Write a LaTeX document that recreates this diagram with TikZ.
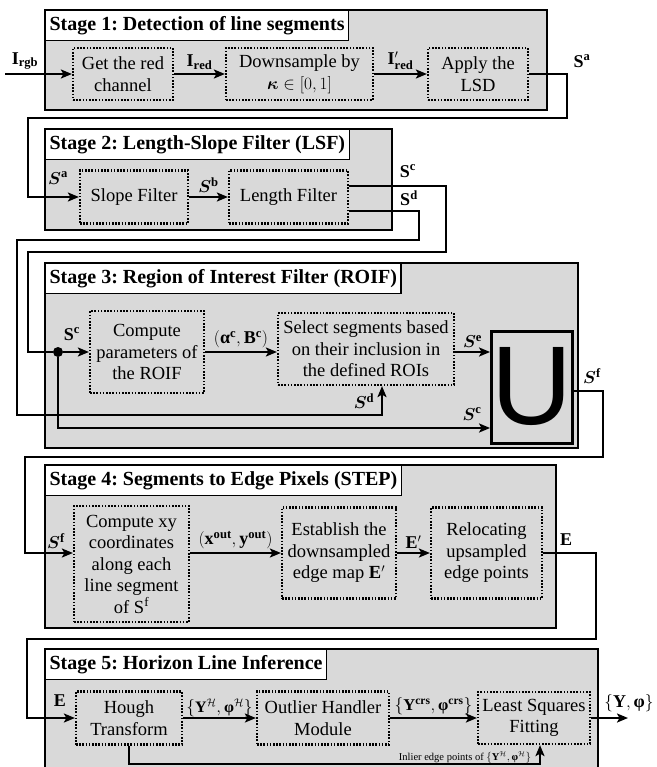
\documentclass[tikz,border=0pt]{standalone}
\usepackage{amsmath,bm}
\usepackage{fontspec}
\setmainfont{Liberation Serif}
\newfontfamily\usans{Liberation Sans}
\frenchspacing
\usetikzlibrary{
    arrows.meta,
    calc
}
\definecolor{stagegray}{RGB}{217,217,217}
\newcommand{\bv}[1]{\mathbf{#1}}
\newcommand{\bphi}{\mbox{\bfseries φ}}
\newcommand{\balpha}{\mbox{\bfseries α}}
\tikzset{
  stage/.style={
    draw=black,
    fill=stagegray,
    line width=1.2pt
  },
  stagetitle/.style={
    draw=black,
    fill=white,
    line width=1.2pt,
    anchor=north west,
    minimum height=30pt,
    inner xsep=4pt,
    inner ysep=0pt,
    font=\fontsize{20}{22}\selectfont\bfseries
  },
  proc/.style={
    draw=black,
    line width=2.2pt,
    dash pattern=on 1.6pt off 1.6pt,
    align=center,
    inner sep=2pt,
    font=\fontsize{18.5}{21.5}\selectfont
  },
  link/.style={line width=2.2pt},
  arr/.style={link, -{Stealth[length=11pt,width=9pt,inset=2.5pt]}},
  lab/.style={inner sep=1pt, font=\fontsize{18}{20}\selectfont}
}

\begin{document}
\begin{tikzpicture}[x=1pt,y=-1pt]
    \useasboundingbox (0,0) rectangle (656,767);
    \clip (0,0) rectangle (656,767);

    %-------------------------
    %Stage 1
    %-------------------------
    \draw[stage] (45,10) rectangle (547,110);
    \node[stagetitle] (t1) at (45,10) {Stage 1: Detection of line segments};
    \node[proc, minimum width=100pt, minimum height=52pt] (red) at (123,74) {Get the red\\channel};
    \node[proc, minimum width=147pt, minimum height=52pt] (down) at (299.5,74) {Downsample by\\$\bm{\kappa}\in[0,1]$};
    \node[proc, minimum width=100pt, minimum height=52pt] (lsd) at (478,74) {Apply the\\LSD};

    \coordinate (in) at (5,74);
    \draw[arr] (in) -- (red);
    \draw[arr] (red) -- node[lab, above=2pt] {$\bv{I}_{\bv{red}}$} (down);
    \draw[arr] (down) -- node[lab, above=2pt] {$\bv{I}'_{\bv{red}}$} (lsd);
    \node[lab] (lrgb) at (25,61) {$\bv{I}_{\bv{rgb}}$};
    \node[lab] (lsa) at (582,61) {$\bv{S}^{\bv{a}}$};

    %-------------------------
    %Stage 2
    %-------------------------
    \draw[stage] (45,129) rectangle (392,230);
    \node[stagetitle] (t2) at (45,129) {Stage 2: Length-Slope Filter (LSF)};
    \node[proc, minimum width=108pt, minimum height=53pt] (slope) at (134,197) {Slope Filter};
    \node[proc, minimum width=119pt, minimum height=53pt] (length) at (288.5,197) {Length Filter};

    \draw[arr] (lsd.east) -| (567,118) -| (28,197) -- (slope.west);
    \draw[arr] (slope) -- node[lab, above=2pt] {$\bm{S}^{\bv{b}}$} (length);
    \node[lab] (lsa2) at (58,178) {$\bm{S}^{\bv{a}}$};
    \node[lab] (lsc) at (408,171) {$\bv{S}^{\bv{c}}$};
    \node[lab] (lsd2) at (409,198) {$\bv{S}^{\bv{d}}$};

    %-------------------------
    %Stage 3
    %-------------------------
    \draw[stage] (45,263) rectangle (578,448);
    \node[stagetitle] (t3) at (45,263) {Stage 3: Region of Interest Filter (ROIF)};
    \node[proc, minimum width=114pt, minimum height=82pt] (roif) at (147,352) {Compute\\parameters of\\the ROIF};
    \node[proc, minimum width=176pt, minimum height=72pt] (select) at (366,349) {Select segments based\\on their inclusion in\\the defined ROIs};
    \node[draw=black, line width=3pt, minimum width=74pt, minimum height=112pt, inner sep=0pt,
          font=\fontsize{112}{112}\usans] (union) at (532,387) {U};
    \node[circle, fill=black, inner sep=0pt, minimum size=10pt] (dot) at (58,352) {};

    \draw[link] ([yshift=11pt]length.east) -| (446,252) -| (28,352) -- (dot);
    \draw[arr] ([yshift=-14pt]length.east) -| (419,240) -| (17,415) -| ([xshift=16pt]select.south);
    \draw[arr] (dot) -- (roif.west);
    \draw[arr] (roif) -- node[lab, above=2pt] {$(\balpha^{\bv{c}},\bv{B}^{\bv{c}})$} (roif -| select.west);
    \draw[arr] (select.east |- roif) -- node[lab, above=2pt] {$\bm{S}^{\bv{e}}$} (union.west |- roif);
    \draw[arr] (dot) |- ([yshift=-41pt]union.west);
    \node[lab] (lsc3) at (72,334) {$\bv{S}^{\bv{c}}$};
    \node[lab] (lsd3) at (364,401) {$\bm{S}^{\bv{d}}$};
    \node[lab] (lsc4) at (472,414) {$\bm{S}^{\bv{c}}$};
    \node[lab] (lsf) at (592,376) {$\bm{S}^{\bv{f}}$};

    %-------------------------
    %Stage 4
    %-------------------------
    \draw[stage] (45,465) rectangle (556,628);
    \node[stagetitle] (t4) at (45,465) {Stage 4: Segments to Edge Pixels (STEP)};
    \node[proc, minimum width=115pt, minimum height=116pt] (xy) at (131.5,564) {Compute xy\\coordinates\\along each\\line segment\\of $\mathrm{S}^{\mathrm{f}}$};
    \node[proc, minimum width=114pt, minimum height=91pt] (emap) at (339,553) {Establish the\\downsampled\\edge map $\bv{E}'$};
    \node[proc, minimum width=111pt, minimum height=91pt] (reloc) at (486.5,553) {Relocating\\upsampled\\edge points};

    \draw[arr] ([yshift=-4pt]union.east) -| (603,457) -| (25,553) -- ([yshift=11pt]xy.west);
    \draw[arr] ([yshift=11pt]xy.east) -- node[lab, above=2pt] {$(\bv{x}^{\bv{out}},\bv{y}^{\bv{out}})$} (emap);
    \draw[arr] (emap) -- node[lab, above=2pt] {$\bv{E}'$} (reloc);
    \node[lab] (lsf2) at (56,541) {$\bm{S}^{\bv{f}}$};
    \node[lab] (le) at (566,540) {$\bv{E}$};

    %-------------------------
    %Stage 5
    %-------------------------
    \draw[stage] (45,649) rectangle (598,790);
    \node[stagetitle] (t5) at (45,649) {Stage 5: Horizon Line Inference};
    \node[proc, minimum width=106pt, minimum height=53pt] (hough) at (129,718) {Hough\\Transform};
    \node[proc, minimum width=132pt, minimum height=53pt] (outlier) at (323,718) {Outlier Handler\\Module};
    \node[proc, minimum width=112pt, minimum height=52pt] (lsq) at (534,718) {Least Squares\\Fitting};

    \coordinate (out) at (628,718);
    \coordinate (fb) at (540,764);
    \draw[arr] (reloc.east) -| (596,639) -| (27,718) -- (hough.west);
    \draw[arr] (hough) -- node[lab, above=0pt, inner sep=0pt, font=\fontsize{16}{17}\selectfont] {$\{\bv{Y}^{\mathcal{H}},\bphi^{\mathcal{H}}\}$} (outlier);
    \draw[arr] (outlier) -- node[lab, above=1pt, font=\fontsize{16.5}{18}\selectfont] {$\{\bv{Y}^{\bv{crs}},\bphi^{\bv{crs}}\}$} (lsq);
    \draw[arr] (lsq) -- (out);
    \draw[arr] (hough.south) |- (fb) -- (fb |- lsq.south);
    \node[lab] (le2) at (60,701) {$\bv{E}$};
    \node[lab] (lres) at (629,703) {$\{\bv{Y},\bphi\}$};
    \node[inner sep=0pt, font=\fontsize{10.5}{12}\selectfont] (linl) at (465,757) {Inlier edge points of $\{\bv{Y}^{\mathcal{H}},\bphi^{\mathcal{H}}\}$};

\end{tikzpicture}
\end{document}
